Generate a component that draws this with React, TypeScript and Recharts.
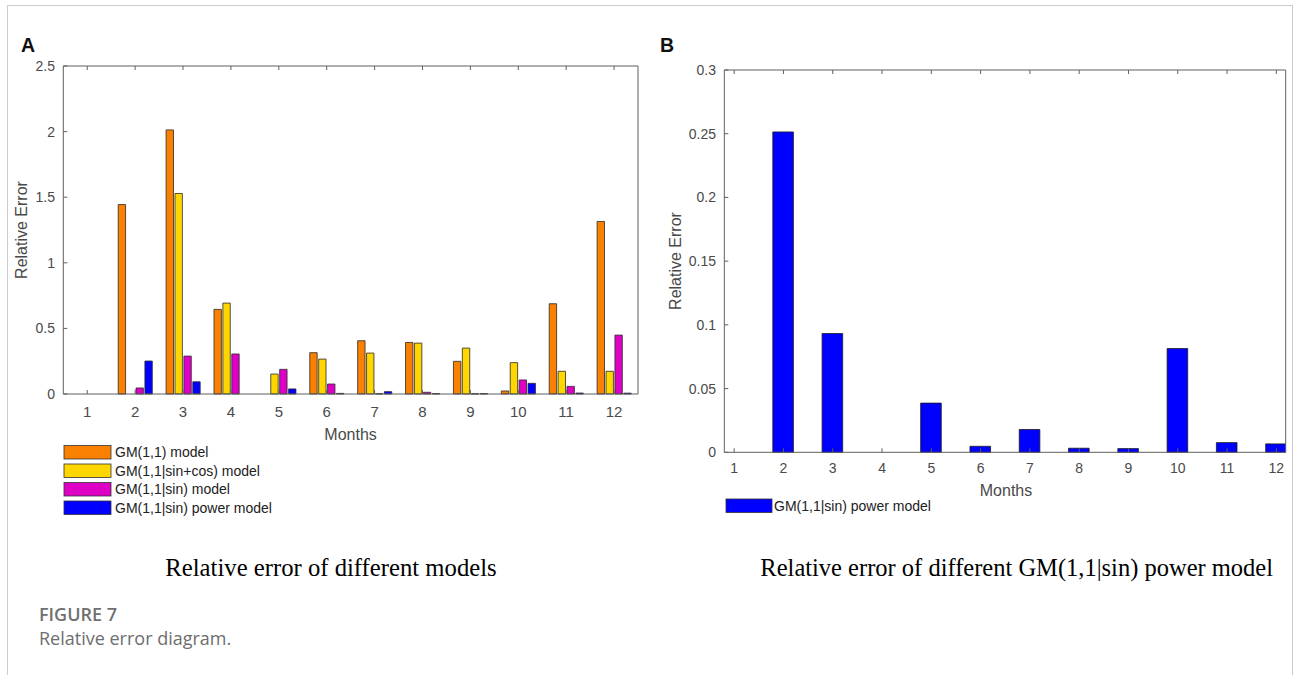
import { BarChart, Bar, XAxis, YAxis } from "recharts";

// months on the x axis of both panels
const months = [1, 2, 3, 4, 5, 6, 7, 8, 9, 10, 11, 12];

// panel A: relative error per model
const gm11 = [0, 1.444, 2.013, 0.645, 0, 0.315, 0.406, 0.393, 0.249, 0.023, 0.688, 1.315];
const gmSinCos = [0, 0, 1.528, 0.693, 0.152, 0.266, 0.312, 0.388, 0.35, 0.239, 0.173, 0.173];
const gmSin = [0, 0.046, 0.289, 0.305, 0.188, 0.076, 0.002, 0.013, 0.002, 0.107, 0.058, 0.449];
// panel B (also the 4th series of panel A)
const gmSinPower = [0, 0.2514, 0.0932, 0, 0.0386, 0.0047, 0.0179, 0.0032, 0.0029, 0.0814, 0.0076, 0.0066];

const seriesKeys = ["gm11", "gmSinCos", "gmSin", "gmSinPower"];
const seriesNames = [
  "GM(1,1) model",
  "GM(1,1|sin+cos) model",
  "GM(1,1|sin) model",
  "GM(1,1|sin) power model",
];
const seriesColors = ["#F98000", "#FFD600", "#DE00C4", "#0000FF"];
const seriesValues = [gm11, gmSinCos, gmSin, gmSinPower];

const yTicksA = [0, 0.5, 1, 1.5, 2, 2.5];
const yTicksB = [0, 0.05, 0.1, 0.15, 0.2, 0.25, 0.3];

const dataA = months.map((m, i) => {
  const row: Record<string, number> = { month: m };
  seriesKeys.forEach((k, j) => (row[k] = seriesValues[j][i]));
  return row;
});
const dataB = months.map((m, i) => ({ month: m, value: gmSinPower[i] }));

const AXIS = "#5f5f5f";
const TICK_TEXT = "#4a4a4a";
const SANS = "'Liberation Sans', Arial, sans-serif";
const blank = () => "";

function PanelA() {
  return (
    <div style={{ position: "absolute", left: 0, top: 0 }}>
      <BarChart
        width={660}
        height={440}
        data={dataA}
        margin={{ top: 66, right: 22, bottom: 16, left: 3.3 }}
        barSize={7.4}
        barGap={1.5}
      >
        <XAxis
          dataKey="month"
          height={30}
          interval={0}
          tickSize={-4}
          tickMargin={16.7}
          axisLine={{ stroke: AXIS }}
          tickLine={{ stroke: AXIS }}
          tick={{ fill: TICK_TEXT, fontSize: 15, fontFamily: SANS }}
        />
        <XAxis
          xAxisId="top"
          dataKey="month"
          orientation="top"
          mirror
          interval={0}
          tickSize={4}
          tickFormatter={blank}
          axisLine={{ stroke: AXIS }}
          tickLine={{ stroke: AXIS }}
        />
        <YAxis
          domain={[0, 2.5]}
          ticks={yTicksA}
          width={60}
          tickSize={-4}
          tickMargin={12.3}
          axisLine={{ stroke: AXIS }}
          tickLine={{ stroke: AXIS }}
          tick={{ fill: TICK_TEXT, fontSize: 14, fontFamily: SANS }}
        />
        <YAxis
          yAxisId="right"
          orientation="right"
          mirror
          domain={[0, 2.5]}
          ticks={yTicksA}
          tickSize={4}
          tickFormatter={blank}
          axisLine={{ stroke: AXIS }}
          tickLine={{ stroke: AXIS }}
        />
        {seriesKeys.map((k, j) => (
          <Bar
            key={k}
            dataKey={k}
            fill={seriesColors[j]}
            stroke="#2a2a2a"
            strokeWidth={0.8}
            isAnimationActive={false}
          />
        ))}
      </BarChart>
    </div>
  );
}

function PanelB() {
  return (
    <div style={{ position: "absolute", left: 650, top: 0 }}>
      <BarChart
        width={643}
        height={500}
        data={dataB}
        margin={{ top: 70, right: 7.3, bottom: 17.7, left: 14.3 }}
        barSize={20.6}
      >
        <XAxis
          dataKey="month"
          type="number"
          domain={[0.8, 12.19]}
          ticks={months}
          allowDataOverflow
          height={30}
          interval={0}
          tickSize={-4}
          tickMargin={15}
          axisLine={{ stroke: AXIS }}
          tickLine={{ stroke: AXIS }}
          tick={{ fill: TICK_TEXT, fontSize: 14, fontFamily: SANS }}
        />
        <XAxis
          xAxisId="top"
          dataKey="month"
          type="number"
          domain={[0.8, 12.19]}
          ticks={months}
          allowDataOverflow
          orientation="top"
          mirror
          interval={0}
          tickSize={4}
          tickFormatter={blank}
          axisLine={{ stroke: AXIS }}
          tickLine={{ stroke: AXIS }}
        />
        <YAxis
          domain={[0, 0.3]}
          ticks={yTicksB}
          width={60}
          tickSize={-4}
          tickMargin={12.3}
          axisLine={{ stroke: AXIS }}
          tickLine={{ stroke: AXIS }}
          tick={{ fill: TICK_TEXT, fontSize: 14, fontFamily: SANS }}
        />
        <YAxis
          yAxisId="right"
          orientation="right"
          mirror
          domain={[0, 0.3]}
          ticks={yTicksB}
          tickSize={4}
          tickFormatter={blank}
          axisLine={{ stroke: AXIS }}
          tickLine={{ stroke: AXIS }}
        />
        <Bar
          dataKey="value"
          fill={seriesColors[3]}
          stroke="#1a1a1a"
          strokeWidth={0.8}
          isAnimationActive={false}
        />
      </BarChart>
    </div>
  );
}

export default function App() {
  const legendTops = [445.5, 464, 482.5, 501];
  return (
    <div
      style={{
        position: "absolute",
        left: 0,
        top: 0,
        width: 1293,
        height: 675,
        overflow: "hidden",
        background: "#fff",
      }}
    >
      <div
        style={{
          position: "absolute",
          left: 7,
          top: 5,
          width: 1284,
          height: 720,
          borderTop: "1.5px solid #cccccc",
          borderLeft: "1.5px solid #cccccc",
          borderRight: "1.5px solid #cccccc",
        }}
      />
      <PanelA />
      <PanelB />
      <svg
        width={1293}
        height={675}
        style={{ position: "absolute", left: 0, top: 0, pointerEvents: "none" }}
      >
        <g fontFamily={SANS}>
          <text x={21} y={51.7} fontSize={19.5} fontWeight="bold" fill="#111">A</text>
          <text x={660} y={51.7} fontSize={19.5} fontWeight="bold" fill="#111">B</text>

          <text transform="translate(26.5,230) rotate(-90)" textAnchor="middle" fontSize={16} fill={TICK_TEXT}>
            Relative Error
          </text>
          <text transform="translate(681,261) rotate(-90)" textAnchor="middle" fontSize={16} fill={TICK_TEXT}>
            Relative Error
          </text>
          <text x={350.6} y={440} textAnchor="middle" fontSize={16} fill={TICK_TEXT}>Months</text>
          <text x={1006} y={496} textAnchor="middle" fontSize={16} fill={TICK_TEXT}>Months</text>

          {seriesNames.map((name, j) => (
            <g key={name}>
              <rect
                x={64}
                y={legendTops[j]}
                width={47}
                height={13.5}
                fill={seriesColors[j]}
                stroke="#333"
                strokeWidth={0.8}
              />
              <text x={115} y={legendTops[j] + 11.5} fontSize={14} fill="#222">
                {name}
              </text>
            </g>
          ))}
          <rect x={726} y={499} width={46} height={13.5} fill={seriesColors[3]} stroke="#333" strokeWidth={0.8} />
          <text x={774} y={510.5} fontSize={14} fill="#222">{seriesNames[3]}</text>
        </g>

        <g fontFamily="'Liberation Serif', 'Times New Roman', serif" fill="#000">
          <text x={331} y={576} textAnchor="middle" fontSize={24.7}>
            Relative error of different models
          </text>
          <text x={1016.7} y={576} textAnchor="middle" fontSize={24.5}>
            Relative error of different GM(1,1|sin) power model
          </text>
        </g>

        <g fontFamily="'Open Sans', sans-serif">
          <text x={39} y={621} fontSize={18} fontWeight={600} fill="#707070">FIGURE 7</text>
          <text x={39} y={645} fontSize={18} fill="#6e6e6e">Relative error diagram.</text>
        </g>
      </svg>
    </div>
  );
}
